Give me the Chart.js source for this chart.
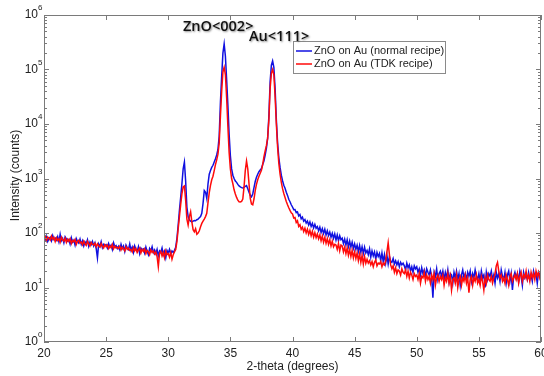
<!DOCTYPE html>
<html>
<head>
<meta charset="utf-8">
<script src="https://cdn.jsdelivr.net/npm/chart.js@4/dist/chart.umd.min.js"></script>
<style>
  html, body { margin: 0; padding: 0; background: #fff; }
  canvas { display: block; }
</style>
</head>
<body>
<canvas id="xrd" width="544" height="376"></canvas>
<script>
// XRD scan, 2-theta from 20 to 60 deg, one reading every 0.1 deg
var thetaStart = 20;
var thetaStep = 0.1;

// ZnO on Au (normal recipe) - counts
var normalCounts = [
  82, 75, 88, 70, 79, 84, 72, 90, 76, 81,
  74, 86, 69, 95, 72, 80, 66, 85, 78, 71,
  76, 63, 82, 68, 74, 60, 79, 70, 65, 77,
  62, 72, 58, 69, 64, 75, 57, 68, 61, 70,
  58, 66, 52, 35, 63, 57, 69, 54, 62, 59,
  61, 53, 64, 55, 60, 50, 66, 56, 59, 52,
  57, 49, 62, 52, 58, 46, 60, 54, 50, 63,
  48, 55, 44, 58, 50, 46, 56, 42, 53, 49,
  51, 43, 55, 46, 40, 52, 47, 56, 44, 49,
  42, 50, 38, 47, 44, 53, 40, 46, 35, 48,
  43, 50, 41, 47, 44, 48, 55, 80, 140, 260,
  450, 800, 1500, 2000, 900, 300, 200, 175, 165, 160,
  165, 170, 168, 175, 180, 190, 200, 230, 350, 600,
  560, 430, 800, 1200, 1400, 1600, 1750, 2000, 2300, 2700,
  3400, 6000, 25000, 75000, 200000, 295000, 175000, 65000, 22000, 6500,
  2600, 1500, 1150, 1000, 900, 850, 780, 730, 700, 680,
  670, 690, 720, 740, 650, 560, 490, 460, 520, 680,
  880, 1050, 1200, 1330, 1430, 1520, 1800, 2100, 2700, 3600,
  5500, 14000, 60000, 120000, 144000, 110000, 45000, 12000, 4500, 2400,
  1600, 1150, 910, 750, 660, 560, 490, 415, 375, 330,
  300, 268, 270, 236, 244, 205, 218, 182, 196, 165,
  176, 152, 166, 140, 160, 132, 150, 124, 144, 122,
  131, 110, 128, 102, 120, 98, 117, 92, 110, 90,
  104, 84, 99, 80, 96, 74, 92, 72, 89, 75,
  80, 64, 77, 60, 75, 56, 71, 55, 68, 52,
  63, 50, 60, 46, 59, 44, 56, 42, 55, 43,
  48, 40, 51, 36, 47, 38, 45, 33, 44, 37,
  42, 31, 43, 30, 40, 28, 39, 27, 37, 30,
  29, 34, 27, 31, 26, 30, 24, 29, 26, 28,
  25, 21, 28, 23, 26, 20, 24, 19, 25, 22,
  24, 19, 22, 17, 23, 18, 21, 16, 22, 19,
  17, 21, 15, 6.5, 19, 16, 22, 14, 18, 20,
  16, 20, 14, 19, 15, 21, 13, 18, 17, 12,
  19, 15, 20, 14, 18, 11, 17, 21, 15, 18,
  14, 19, 16, 20, 13, 18, 15, 21, 16, 14,
  18, 13, 20, 15, 17, 10, 19, 14, 18, 16,
  20, 14, 17, 12, 19, 15, 18, 13, 21, 16,
  14, 19, 12, 17, 20, 13, 18, 9, 16, 19,
  15, 18, 13, 20, 16, 11, 19, 15, 17, 14,
  19, 14, 17, 13, 20, 16, 18, 12, 19, 17,
  16
];

// ZnO on Au (TDK recipe) - counts
var tdkCounts = [
  78, 86, 72, 84, 80, 74, 88, 77, 83, 70,
  82, 73, 79, 68, 84, 75, 71, 80, 67, 77,
  70, 78, 64, 73, 69, 76, 62, 71, 74, 66,
  68, 61, 71, 63, 59, 70, 64, 58, 67, 62,
  60, 65, 56, 63, 58, 55, 64, 57, 53, 61,
  56, 60, 52, 58, 54, 62, 51, 57, 53, 55,
  52, 57, 49, 55, 51, 47, 56, 50, 53, 48,
  50, 45, 54, 47, 52, 44, 49, 53, 43, 50,
  46, 51, 42, 48, 45, 40, 49, 44, 47, 41,
  45, 37, 24, 42, 46, 38, 44, 35, 47, 40,
  42, 36, 44, 33, 40, 45, 50, 70, 120, 200,
  330, 520, 700, 730, 400, 180, 140, 200, 245, 160,
  115, 105, 120, 95, 100, 110, 130, 150, 165, 180,
  200, 230, 360, 550, 750, 950, 1100, 1400, 1800, 2200,
  2800, 4500, 14000, 40000, 90000, 110000, 80000, 30000, 9000, 3000,
  1500, 1000, 800, 620, 520, 450, 400, 375, 370, 380,
  420, 700, 1400, 2100, 1500, 800, 430, 340, 330, 420,
  600, 780, 950, 1100, 1250, 1420, 1800, 2500, 3200, 4000,
  5500, 12000, 45000, 85000, 100000, 80000, 32000, 10000, 3800, 1900,
  1200, 850, 650, 530, 450, 380, 330, 290, 260, 235,
  225, 188, 192, 156, 168, 132, 142, 117, 128, 106,
  122, 100, 117, 94, 112, 89, 107, 84, 101, 82,
  96, 78, 92, 72, 88, 68, 83, 65, 79, 62,
  75, 58, 71, 56, 62, 60, 50, 64, 47, 60,
  58, 45, 55, 42, 53, 39, 50, 37, 48, 35,
  45, 34, 43, 31, 41, 29, 39, 27, 37, 28,
  33, 28, 31, 26, 30, 24, 29, 32, 25, 28,
  27, 30, 24, 28, 26, 31, 45, 66, 40, 26,
  22, 25, 19, 23, 18, 21, 20, 17, 22, 19,
  18, 21, 16, 20, 15, 19, 17, 14, 18, 16,
  17, 14, 18, 12, 16, 15, 19, 13, 17, 14,
  16, 12, 17, 14, 18, 11, 15, 17, 13, 16,
  14, 17, 11, 15, 13, 18, 12, 16, 9, 14,
  15, 12, 17, 10, 14, 16, 11, 15, 13, 17,
  12, 15, 8, 14, 16, 11, 15, 13, 17, 12,
  14, 11, 16, 13, 9, 15, 12, 17, 14, 13,
  16, 12, 15, 18, 25, 29, 20, 15, 17, 13,
  15, 12, 17, 14, 11, 16, 18, 13, 15, 17,
  14, 18, 12, 16, 19, 13, 17, 15, 20, 14,
  17, 13, 19, 15, 18, 14, 20, 16, 19, 15,
  18
];

var seriesNames = ["ZnO on Au (normal recipe)", "ZnO on Au (TDK recipe)"];
var seriesColors = ["#1010e0", "#ff0a0a"];

// axis ticks
var xTicks = [20, 25, 30, 35, 40, 45, 50, 55, 60];
var yExponents = [0, 1, 2, 3, 4, 5, 6];

// peak labels
var peakNames = ["ZnO<002>", "Au<111>"];

function toPoints(counts) {
    return counts.map(function(c, i) {
        return { x: +(thetaStart + i * thetaStep).toFixed(1), y: c };
    });
}

var labelFont = '12px "Liberation Sans", Arial, sans-serif';

// draws the matlab style box, inner ticks, tick labels, legend and peak names
var matlabFrame = {
    id: 'matlabFrame',
    afterDraw: function(chart) {
        var ctx = chart.ctx;
        var area = chart.chartArea;
        var xs = chart.scales.x;
        var ys = chart.scales.y;
        ctx.save();

        // box
        ctx.strokeStyle = '#7a7a7a';
        ctx.lineWidth = 1;
        ctx.strokeRect(area.left + 0.5, area.top + 0.5, area.right - area.left - 1, area.bottom - area.top - 1);

        // x ticks (top and bottom, pointing inward)
        ctx.beginPath();
        xTicks.forEach(function(t) {
            var px = Math.round(xs.getPixelForValue(t)) + 0.5;
            ctx.moveTo(px, area.bottom);
            ctx.lineTo(px, area.bottom - 5);
            ctx.moveTo(px, area.top);
            ctx.lineTo(px, area.top + 5);
        });
        // y ticks, decades plus minor 2..9
        yExponents.forEach(function(e) {
            for (var m = 1; m <= 9; m++) {
                if (e === 6 && m > 1) break;
                var py = Math.round(ys.getPixelForValue(m * Math.pow(10, e))) + 0.5;
                var len = m === 1 ? 5 : 3;
                ctx.moveTo(area.left, py);
                ctx.lineTo(area.left + len, py);
                ctx.moveTo(area.right, py);
                ctx.lineTo(area.right - len, py);
            }
        });
        ctx.stroke();

        // x tick labels
        ctx.fillStyle = '#222';
        ctx.font = labelFont;
        ctx.textAlign = 'center';
        ctx.textBaseline = 'middle';
        xTicks.forEach(function(t) {
            ctx.fillText(String(t), xs.getPixelForValue(t), area.bottom + 12);
        });
        ctx.fillText('2-theta (degrees)', (area.left + area.right) / 2, area.bottom + 25);

        // y tick labels 10^n
        yExponents.forEach(function(e) {
            var py = ys.getPixelForValue(Math.pow(10, e));
            ctx.font = labelFont;
            ctx.textAlign = 'right';
            ctx.fillText('10', area.left - 6, py);
            ctx.font = '8px "Liberation Sans", Arial, sans-serif';
            ctx.textAlign = 'left';
            ctx.fillText(String(e), area.left - 6, py - 7);
        });

        // y title
        ctx.save();
        ctx.translate(16, (area.top + area.bottom) / 2 - 3);
        ctx.rotate(-Math.PI / 2);
        ctx.font = labelFont;
        ctx.textAlign = 'center';
        ctx.fillText('Intensity (counts)', 0, 0);
        ctx.restore();

        // legend
        var lx = 293, ly = 41, lw = 152, lh = 32;
        ctx.fillStyle = '#fff';
        ctx.fillRect(lx, ly, lw, lh);
        ctx.strokeStyle = '#8a8a8a';
        ctx.strokeRect(lx + 0.5, ly + 0.5, lw, lh);
        ctx.font = '11px "Liberation Sans", Arial, sans-serif';
        ctx.textAlign = 'left';
        ctx.textBaseline = 'middle';
        seriesNames.forEach(function(name, i) {
            var rowY = ly + 10 + i * 13;
            ctx.strokeStyle = seriesColors[i];
            ctx.lineWidth = 1.5;
            ctx.beginPath();
            ctx.moveTo(lx + 3, rowY);
            ctx.lineTo(lx + 19, rowY);
            ctx.stroke();
            ctx.fillStyle = '#222';
            ctx.fillText(name, lx + 21, rowY);
        });

        // peak names
        ctx.font = '600 14.5px "Open Sans", "Noto Sans", sans-serif';
        ctx.fillStyle = '#111';
        ctx.shadowColor = 'rgba(0,0,0,0.45)';
        ctx.shadowBlur = 2;
        ctx.shadowOffsetX = 1;
        ctx.shadowOffsetY = 1;
        ctx.textBaseline = 'alphabetic';
        ctx.fillText(peakNames[0], 183, 31);
        ctx.fillText(peakNames[1], 249, 41);

        ctx.restore();
    }
};

var ctx = document.getElementById('xrd');
var xrdChart = new Chart(ctx, {
    type: 'line',
    data: {
        datasets: [{
            label: seriesNames[0],
            data: toPoints(normalCounts),
            borderColor: seriesColors[0],
            borderWidth: 1.5,
            pointRadius: 0,
            order: 1
        }, {
            label: seriesNames[1],
            data: toPoints(tdkCounts),
            borderColor: seriesColors[1],
            borderWidth: 1.5,
            pointRadius: 0,
            order: 0
        }]
    },
    options: {
        responsive: false,
        animation: false,
        layout: { padding: { left: 44, right: 3, top: 15, bottom: 34 } },
        plugins: { legend: { display: false }, tooltip: { enabled: false } },
        scales: {
            x: { type: 'linear', min: 20, max: 60, display: false },
            y: { type: 'logarithmic', min: 1, max: 1000000, display: false }
        }
    },
    plugins: [matlabFrame]
});
</script>
</body>
</html>
